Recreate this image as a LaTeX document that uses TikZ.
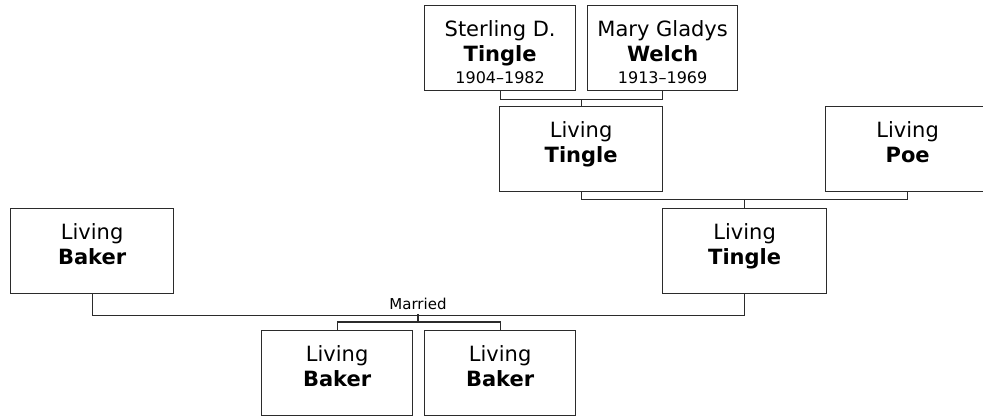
\documentclass[tikz,border=0pt]{standalone}
\usepackage{fontspec}
\setmainfont{DejaVu Sans}
\usepackage{tikz}
\usetikzlibrary{positioning,calc}
\definecolor{edge}{HTML}{2B2B2B}

\newcommand{\personbox}[4]{%
  \parbox[c][85pt][t]{#1}{\centering
    \fontsize{21}{25}\selectfont
    \rule{0pt}{30.5pt}#2\\
    \textbf{#3}\\[-3pt]
    {\fontsize{16}{19}\selectfont #4}}}

\begin{document}
\begin{tikzpicture}[x=1pt,y=-1pt,
          every node/.style={text=black},
          person/.style={draw=edge,line width=1.3pt,inner sep=0pt,anchor=north west},
          link/.style={draw=edge,line width=1.3pt},
      ]
        \useasboundingbox (0,0) rectangle (983,416);

        % grandparents
        \node[person] (sterling) at (424,5) {\personbox{151pt}{Sterling D.}{Tingle}{1904--1982}};
        \node[person] (mary) at (587,5) {\personbox{150pt}{Mary Gladys}{Welch}{1913--1969}};

        % parents
        \node[person] (tingleA) at (499,106) {\personbox{163pt}{Living}{Tingle}{}};
        \node[person] (poe) at (825,106) {\personbox{164pt}{Living}{Poe}{}};

        % couple
        \node[person] (bakerL) at (10,208) {\personbox{163pt}{Living}{Baker}{}};
        \node[person] (tingleB) at (662,208) {\personbox{164pt}{Living}{Tingle}{}};

        % children
        \node[person] (bakerA) at (261,330) {\personbox{151pt}{Living}{Baker}{}};
        \node[person] (bakerB) at (424,330) {\personbox{151pt}{Living}{Baker}{}};

        \draw[link] (sterling.south) -- ++(0,8) -| (mary.south);
        \draw[link] (tingleA.north) -- ++(0,-7);
        \draw[link] (tingleA.south) -- ++(0,7) -| (poe.south);
        \draw[link] (tingleB.north) -- ++(0,-9);
        \draw[link] (bakerL.south) -- ++(0,21) -| (tingleB.south);

        \coordinate (wed) at (418,314);
        \node[font=\fontsize{15}{18}\selectfont,inner sep=0pt,above=4pt of wed] (married) {Married};
        \draw[link] (wed) -- ++(0,8);
        \draw[link] (bakerA.north) -- ++(0,-8) -| (bakerB.north);
      \end{tikzpicture}
\end{document}
